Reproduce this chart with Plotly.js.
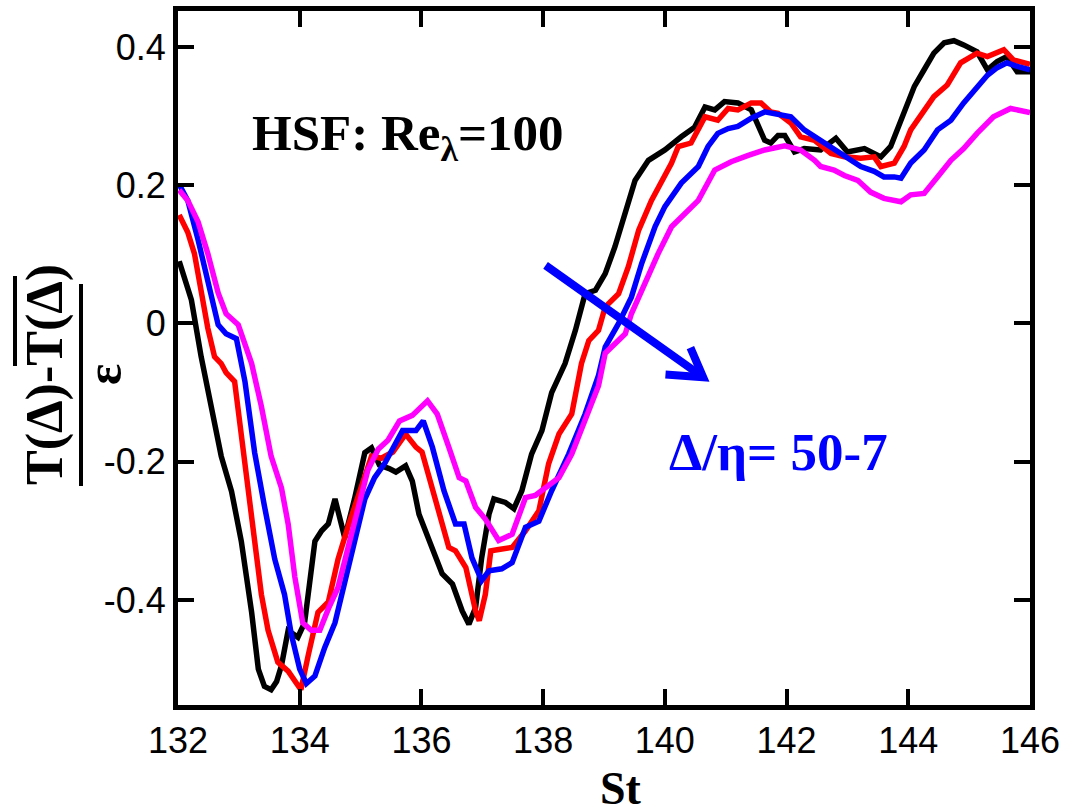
<!DOCTYPE html>
<html>
<head>
<meta charset="utf-8">
<script src="https://cdn.plot.ly/plotly-3.0.1.min.js"></script>
<style>html,body{margin:0;padding:0;background:#fff;}#chart{width:1066px;height:811px;}</style>
</head>
<body>
<div id="chart"></div>
<script>
// Δ/η = 50 (black)
const xBlack = [132.02,132.22,132.38,132.55,132.71,132.88,133.04,133.21,133.32,133.42,133.53,133.62,133.70,133.81,133.97,134.08,134.25,134.36,134.47,134.58,134.74,134.90,135.07,135.18,135.31,135.47,135.58,135.74,135.85,135.96,136.18,136.34,136.51,136.67,136.78,136.89,136.99,137.11,137.19,137.38,137.52,137.65,137.81,137.98,138.14,138.36,138.53,138.69,138.86,139.02,139.18,139.35,139.51,139.73,140.00,140.27,140.49,140.66,140.82,140.98,141.20,141.42,141.64,141.74,141.86,141.97,142.13,142.29,142.56,142.81,143.00,143.28,143.55,143.71,143.93,144.10,144.26,144.42,144.59,144.75,144.91,145.13,145.30,145.46,145.62,145.79,146.00];
const yBlack = [0.09,0.034,-0.048,-0.120,-0.192,-0.243,-0.315,-0.418,-0.500,-0.525,-0.530,-0.518,-0.495,-0.444,-0.454,-0.433,-0.315,-0.300,-0.290,-0.254,-0.310,-0.254,-0.187,-0.180,-0.205,-0.210,-0.215,-0.206,-0.228,-0.276,-0.324,-0.362,-0.377,-0.416,-0.435,-0.411,-0.339,-0.276,-0.254,-0.259,-0.268,-0.242,-0.189,-0.155,-0.100,-0.058,-0.010,0.043,0.048,0.072,0.111,0.159,0.207,0.236,0.251,0.270,0.284,0.313,0.309,0.321,0.319,0.309,0.265,0.261,0.272,0.272,0.248,0.253,0.251,0.268,0.248,0.253,0.241,0.256,0.304,0.343,0.367,0.391,0.406,0.409,0.403,0.393,0.367,0.379,0.386,0.364,0.364];

// red
const xRed = [132.02,132.16,132.27,132.38,132.49,132.60,132.71,132.79,132.93,133.04,133.15,133.26,133.37,133.48,133.64,133.81,133.95,134.02,134.14,134.30,134.47,134.63,134.79,134.96,135.18,135.34,135.53,135.74,135.91,136.01,136.18,136.34,136.45,136.56,136.73,136.89,136.95,137.05,137.14,137.27,137.49,137.71,137.93,138.09,138.26,138.47,138.63,138.75,138.91,139.02,139.24,139.40,139.57,139.78,139.94,140.11,140.22,140.43,140.66,140.87,141.04,141.20,141.42,141.58,141.74,141.86,142.07,142.23,142.46,142.73,142.95,143.22,143.44,143.55,143.77,143.93,144.04,144.26,144.42,144.64,144.86,145.13,145.30,145.57,145.73,146.00];
const yRed = [0.157,0.132,0.101,0.044,-0.007,-0.048,-0.058,-0.071,-0.084,-0.161,-0.238,-0.315,-0.392,-0.444,-0.490,-0.503,-0.521,-0.530,-0.480,-0.418,-0.403,-0.341,-0.295,-0.248,-0.192,-0.195,-0.186,-0.160,-0.179,-0.186,-0.242,-0.290,-0.324,-0.329,-0.353,-0.416,-0.430,-0.392,-0.329,-0.327,-0.324,-0.300,-0.271,-0.203,-0.160,-0.131,-0.058,-0.025,-0.010,0.024,0.043,0.082,0.135,0.178,0.203,0.232,0.256,0.261,0.299,0.294,0.311,0.309,0.319,0.319,0.306,0.304,0.290,0.270,0.265,0.246,0.241,0.239,0.241,0.227,0.232,0.256,0.280,0.309,0.328,0.345,0.377,0.391,0.386,0.396,0.381,0.375];

// blue
const xBlue = [132.02,132.16,132.33,132.49,132.66,132.79,132.96,133.10,133.26,133.42,133.59,133.75,133.86,134.00,134.11,134.25,134.41,134.58,134.74,134.90,135.07,135.23,135.40,135.53,135.69,135.91,136.03,136.18,136.37,136.56,136.70,136.83,136.99,137.11,137.32,137.49,137.71,137.93,138.14,138.42,138.69,138.91,139.02,139.24,139.45,139.62,139.84,140.00,140.27,140.55,140.71,140.87,141.04,141.20,141.42,141.64,141.86,142.07,142.29,142.51,142.73,143.00,143.22,143.44,143.60,143.77,143.88,144.04,144.26,144.48,144.70,144.91,145.13,145.30,145.46,145.62,145.79,146.00];
const yBlue = [0.201,0.178,0.121,0.065,-0.002,-0.015,-0.022,-0.084,-0.187,-0.264,-0.341,-0.392,-0.449,-0.500,-0.521,-0.510,-0.469,-0.433,-0.377,-0.315,-0.254,-0.223,-0.202,-0.181,-0.155,-0.155,-0.141,-0.179,-0.242,-0.290,-0.290,-0.339,-0.372,-0.358,-0.355,-0.346,-0.295,-0.286,-0.242,-0.189,-0.131,-0.075,-0.034,0.000,0.038,0.087,0.140,0.169,0.203,0.227,0.256,0.275,0.282,0.285,0.297,0.306,0.303,0.299,0.280,0.268,0.256,0.241,0.227,0.220,0.212,0.212,0.210,0.232,0.251,0.280,0.294,0.319,0.343,0.359,0.370,0.377,0.372,0.367];

// magenta (Δ/η = 7)
const xMagenta = [132.02,132.16,132.33,132.49,132.66,132.79,132.99,133.21,133.37,133.53,133.70,133.81,133.92,134.05,134.19,134.33,134.47,134.63,134.79,134.96,135.12,135.29,135.45,135.64,135.85,136.10,136.26,136.45,136.62,136.73,136.89,137.05,137.27,137.49,137.71,137.87,138.04,138.26,138.47,138.69,138.91,139.02,139.35,139.45,139.68,139.89,140.11,140.33,140.55,140.82,141.09,141.37,141.64,141.97,142.23,142.46,142.56,142.78,142.95,143.17,143.38,143.60,143.88,144.04,144.26,144.48,144.70,144.91,145.13,145.40,145.68,146.00];
const yMagenta = [0.193,0.178,0.147,0.101,0.044,0.014,-0.002,-0.058,-0.120,-0.192,-0.238,-0.290,-0.367,-0.433,-0.444,-0.444,-0.413,-0.382,-0.326,-0.264,-0.212,-0.182,-0.169,-0.141,-0.133,-0.112,-0.131,-0.179,-0.223,-0.228,-0.266,-0.283,-0.314,-0.305,-0.252,-0.249,-0.237,-0.223,-0.189,-0.141,-0.090,-0.043,-0.015,0.014,0.062,0.101,0.140,0.159,0.178,0.222,0.234,0.243,0.251,0.257,0.251,0.236,0.227,0.222,0.214,0.207,0.190,0.181,0.176,0.186,0.188,0.212,0.236,0.253,0.275,0.299,0.311,0.305];

const xTicks = [132,134,136,138,140,142,144,146];
const yTicks = [-0.4,-0.2,0,0.2,0.4];
const yTickLabels = ['-0.4','-0.2','0','0.2','0.4'];

const series = [
  {x:xBlack, y:yBlack, color:'#000000', name:'50'},
  {x:xRed, y:yRed, color:'#ff0000', name:'red'},
  {x:xBlue, y:yBlue, color:'#0000ff', name:'blue'},
  {x:xMagenta, y:yMagenta, color:'#ff00ff', name:'7'}
];

const traces = series.map(s => ({
  x:s.x, y:s.y, type:'scatter', mode:'lines', name:s.name,
  line:{color:s.color, width:5.5}, showlegend:false, hoverinfo:'skip'
}));

// plot area in pixels: left 178, right 1030, top 11, bottom 705
const L=178, R=1030, T=11, B=705;
const px = v => (v-L)/(R-L);
const py = v => (B-v)/(B-T);

const serif = '"Liberation Serif","Times New Roman",serif';
const axisCommon = {
  showline:true, linecolor:'#000', linewidth:5, mirror:'ticks',
  ticks:'inside', ticklen:16, tickwidth:4, tickcolor:'#000',
  showgrid:false, zeroline:false,
  tickfont:{family:'"Liberation Sans",Arial,sans-serif', size:36, color:'#000'}
};

const layout = {
  width:1066, height:811,
  margin:{l:L, r:1066-R, t:T, b:811-B, pad:0},
  paper_bgcolor:'#fff', plot_bgcolor:'#fff',
  xaxis:Object.assign({}, axisCommon, {range:[132,146], tickvals:xTicks, ticktext:xTicks.map(String)}),
  yaxis:Object.assign({}, axisCommon, {range:[-0.552,0.452], tickvals:yTicks, ticktext:yTickLabels}),
  annotations:[
    {xref:'paper', yref:'paper', x:px(407), y:py(137), xanchor:'center', yanchor:'middle', showarrow:false,
     text:'<b>HSF: Re<sub>λ</sub>=100</b>', font:{family:serif, size:51, color:'#000'}},
    {xref:'paper', yref:'paper', x:px(778), y:py(452), xanchor:'center', yanchor:'middle', showarrow:false,
     text:'<b>Δ/η= 50-7</b>', font:{family:serif, size:53, color:'#0000ff'}},
    {xref:'paper', yref:'paper', x:px(621), y:py(788), xanchor:'center', yanchor:'middle', showarrow:false,
     text:'<b>St</b>', font:{family:serif, size:46, color:'#000'}},
    {xref:'paper', yref:'paper', x:px(45), y:py(375), xanchor:'center', yanchor:'middle', showarrow:false, textangle:-90,
     text:'<b>T(Δ)-T(Δ)</b>', font:{family:serif, size:52, color:'#000'}},
    {xref:'paper', yref:'paper', x:px(104), y:py(375), xanchor:'center', yanchor:'middle', showarrow:false, textangle:-90,
     text:'<b>ε</b>', font:{family:serif, size:50, color:'#000'}}
  ],
  shapes:[
    // fraction bar and overline of the y-axis title
    {type:'line', xref:'paper', yref:'paper', x0:px(81), x1:px(81), y0:py(486), y1:py(284), line:{color:'#000', width:4}},
    {type:'line', xref:'paper', yref:'paper', x0:px(15), x1:px(15), y0:py(366), y1:py(276), line:{color:'#000', width:4}},
    // blue arrow
    {type:'line', xref:'x', yref:'y', x0:138.04, y0:0.084, x1:140.63, y1:-0.078, line:{color:'#0000ff', width:8}},
    {type:'path', xref:'x', yref:'y', path:'M 140.01 -0.074 L 140.63 -0.078 L 140.42 -0.035', line:{color:'#0000ff', width:8}}
  ]
};

Plotly.newPlot('chart', traces, layout, {staticPlot:true, displayModeBar:false});
</script>
</body>
</html>
